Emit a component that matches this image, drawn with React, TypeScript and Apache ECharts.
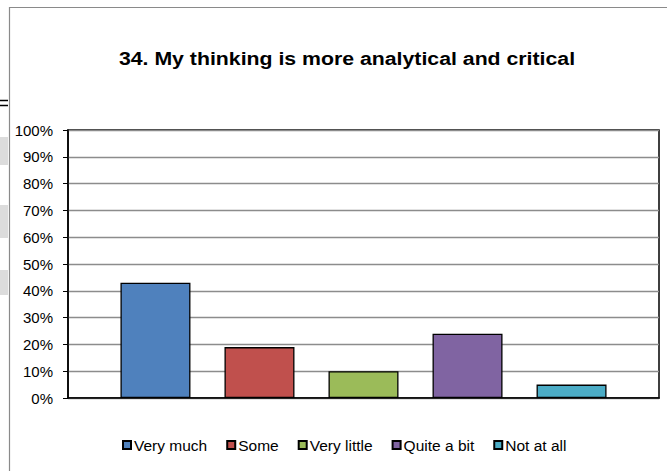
import React, { useEffect, useRef } from "react";
import * as echarts from "echarts";

const titleText = "34. My thinking is more analytical and critical";
const seriesNames = ["Very much", "Some", "Very little", "Quite a bit", "Not at all"];
const seriesValues = [43, 19, 10, 24, 5];
const seriesColors = ["#4F81BD", "#C0504D", "#9BBB59", "#8064A2", "#4BACC6"];
const categories = [""];
const yTicks = { min: 0, max: 100, interval: 10 };

export default function App() {
  const ref = useRef<HTMLDivElement>(null);
  useEffect(() => {
    if (!ref.current) return;
    const chart = echarts.init(ref.current, undefined, { renderer: "svg" });
    const font = "'Liberation Sans', Arial, sans-serif";
    chart.setOption({
      animation: false,
      backgroundColor: "#ffffff",
      textStyle: { fontFamily: font },
      grid: {
        left: 68,
        right: 8,
        top: 130,
        bottom: 73,
        show: true,
        borderColor: "#000000",
        borderWidth: 1.5,
        containLabel: false,
      },
      legend: {
        data: seriesNames,
        left: 117,
        top: 432,
        itemWidth: 8,
        itemHeight: 8,
        itemGap: 19,
        icon: "rect",
        textStyle: { fontSize: 15.5, color: "#000", fontFamily: font, padding: [0, 0, 0, -2] },
      },
      xAxis: {
        type: "category",
        data: categories,
        axisLine: { show: true, lineStyle: { color: "#000", width: 1.5 } },
        axisTick: { show: false },
        axisLabel: { show: false },
      },
      yAxis: {
        type: "value",
        min: yTicks.min,
        max: yTicks.max,
        interval: yTicks.interval,
        axisLine: { show: true, lineStyle: { color: "#000", width: 1.5 } },
        axisTick: { show: true, length: 5, lineStyle: { color: "#000", width: 1 } },
        axisLabel: {
          formatter: "{value}%",
          fontSize: 15,
          color: "#000",
          margin: 15,
          fontFamily: font,
        },
        splitLine: { show: true, lineStyle: { color: "#8c8c8c", width: 1.4 } },
      },
      series: seriesNames.map((name, i) => ({
        name,
        type: "bar",
        data: [seriesValues[i]],
        barWidth: 70,
        barGap: "48.6%",
        itemStyle: { color: seriesColors[i], borderColor: "#000", borderWidth: 1.3 },
      })),
      graphic: [
        {
          type: "polyline",
          shape: { points: [[9.5, 471], [9.5, 7.5], [667, 7.5]] },
          style: { stroke: "#8a8a8a", lineWidth: 1.2, fill: "none" },
          silent: true,
        },
        { type: "rect", shape: { x: 0, y: 137, width: 8, height: 28 }, style: { fill: "#dcdcdc" } },
        { type: "rect", shape: { x: 0, y: 205, width: 8, height: 33 }, style: { fill: "#dcdcdc" } },
        { type: "rect", shape: { x: 0, y: 270, width: 8, height: 25 }, style: { fill: "#dcdcdc" } },
        { type: "line", shape: { x1: 0, y1: 100.5, x2: 8, y2: 100.5 }, style: { stroke: "#000", lineWidth: 1.5 } },
        { type: "line", shape: { x1: 0, y1: 105.5, x2: 8, y2: 105.5 }, style: { stroke: "#000", lineWidth: 1.5 } },
        {
          type: "text",
          x: 347,
          y: 58.5,
          scaleX: 1.12,
          style: {
            text: titleText,
            fontSize: 19,
            fontWeight: "bold",
            fontFamily: font,
            fill: "#000",
            textAlign: "center",
            textVerticalAlign: "middle",
          },
        },
      ],
    });
    return () => chart.dispose();
  }, []);
  return (
    <div
      ref={ref}
      style={{ position: "fixed", left: 0, top: 0, width: 667, height: 471 }}
    />
  );
}
